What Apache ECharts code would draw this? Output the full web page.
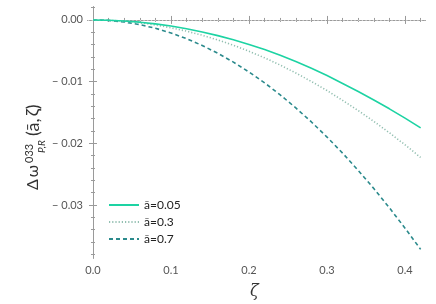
<!DOCTYPE html>
<html><head><meta charset="utf-8">
<script src="https://cdn.jsdelivr.net/npm/echarts@6/dist/echarts.min.js"></script>
<style>html,body{margin:0;padding:0;background:#fff}#c{width:436px;height:304px}</style>
</head><body><div id="c"></div>
<script>
var zeta = [0,0.02,0.04,0.06,0.08,0.10,0.12,0.14,0.16,0.18,0.20,0.22,0.24,0.26,0.28,0.30,0.32,0.34,0.36,0.38,0.40,0.42];
var a005 = [0,-0.00004,-0.00016,-0.00036,-0.00063,-0.00099,-0.00143,-0.00194,-0.00254,-0.00321,-0.00397,-0.00481,-0.00574,-0.00675,-0.00784,-0.00902,-0.01030,-0.01160,-0.01297,-0.01441,-0.01592,-0.01750];
var a03  = [0,-0.00005,-0.00020,-0.00046,-0.00081,-0.00127,-0.00182,-0.00248,-0.00324,-0.00410,-0.00507,-0.00614,-0.00732,-0.00860,-0.00998,-0.01145,-0.01305,-0.01470,-0.01645,-0.01830,-0.02025,-0.02230];
var a07  = [0,-0.00008,-0.00034,-0.00076,-0.00135,-0.00211,-0.00304,-0.00414,-0.00540,-0.00684,-0.00844,-0.01020,-0.01215,-0.01426,-0.01654,-0.01899,-0.02160,-0.02440,-0.02734,-0.03047,-0.03376,-0.03720];
var names = ['ā=0.05','ā=0.3','ā=0.7'];
var xMajor = [0,0.1,0.2,0.3,0.4];
var xMinor = [0,0.02,0.04,0.06,0.08,0.1,0.12,0.14,0.16,0.18,0.2,0.22,0.24,0.26,0.28,0.3,0.32,0.34,0.36,0.38,0.4,0.42];
var yMajor = [0,-0.01,-0.02,-0.03];
var yMinor = [0.002,0,-0.002,-0.004,-0.006,-0.008,-0.01,-0.012,-0.014,-0.016,-0.018,-0.02,-0.022,-0.024,-0.026,-0.028,-0.03,-0.032,-0.034,-0.036,-0.038];

var FONT = 'Lato';
var XMIN = -0.0064, XMAX = 0.4256, YMIN = -0.0386, YMAX = 0.0021;
var frame = {show:true, lineStyle:{color:'#9a9a9a', width:1}};
function xa(pos, vals, len, labels){
  return {type:'value', position:pos, min:XMIN, max:XMAX, axisLine:frame,
    splitLine:{show:false},
    axisTick:{show:true, inside:true, length:len, customValues:vals, lineStyle:{color:'#9a9a9a'}},
    axisLabel:labels ? {show:true, customValues:xMajor, color:'#555', fontFamily:FONT, fontSize:11, margin:7,
      formatter:function(v){return v.toFixed(1);}} : {show:false}};
}
function ya(pos, vals, len, labels){
  return {type:'value', position:pos, min:YMIN, max:YMAX, axisLine:frame,
    splitLine:{show:false},
    axisTick:{show:true, inside:true, length:len, customValues:vals, lineStyle:{color:'#9a9a9a'}},
    axisLabel:labels ? {show:true, customValues:yMajor, color:'#555', fontFamily:FONT, fontSize:11, margin:5,
      formatter:function(v){ return v===0 ? '0.00' : '\u2212 ' + Math.abs(v).toFixed(2);}} : {show:false}};
}
function pairs(ys){ return zeta.map(function(z,i){return [z, ys[i]];}); }

var chart = echarts.init(document.getElementById('c'));
chart.setOption({
  animation:false,
  grid:{left:88, right:11, top:7, bottom:46},
  xAxis:[xa('bottom', xMajor, 4, true), xa('bottom', xMinor, 2, false), xa('top', xMajor, 4, false), xa('top', xMinor, 2, false)],
  yAxis:[ya('left', yMajor, 4, true), ya('left', yMinor, 2, false), ya('right', yMajor, 4, false), ya('right', yMinor, 2, false)],
  legend:{orient:'vertical', left:103, top:194, itemWidth:30, itemHeight:14, itemGap:5,
    itemStyle:{opacity:0},
    textStyle:{fontFamily:FONT, fontSize:12, color:'#222'}, data:names},
  series:[
    {name:names[0], type:'line', data:pairs(a005), showSymbol:false, symbol:'none', z:5,
      lineStyle:{color:'#1dd3a3', width:1.6}, itemStyle:{color:'#1dd3a3'},
      markLine:{silent:true, symbol:'none', label:{show:false}, lineStyle:{color:'#d2d2d2', type:[1.2,2.5], width:1}, data:[{yAxis:0}]}},
    {name:names[1], type:'line', data:pairs(a03), showSymbol:false, symbol:'none', z:4,
      lineStyle:{color:'#93bfb1', width:1.6, type:[1.2,2]}, itemStyle:{color:'#93bfb1'}},
    {name:names[2], type:'line', data:pairs(a07), showSymbol:false, symbol:'none', z:3,
      lineStyle:{color:'#2b8a8c', width:1.6, type:[4,3]}, itemStyle:{color:'#2b8a8c'}}
  ],
  graphic:[
    {type:'text', left:250, top:284, style:{text:'ζ', fontFamily:'DejaVu Serif', fontStyle:'italic', fontSize:16, fill:'#333'}},
    {type:'group', x:38, y:190, rotation:Math.PI/2, children:[
      {type:'text', x:0, y:-5, style:{text:'Δ\u2009ω', fontFamily:FONT, fontSize:16, fill:'#333', verticalAlign:'middle', align:'left'}},
      {type:'text', x:27, y:-9, style:{text:'033', fontFamily:FONT, fontSize:11, fill:'#333', verticalAlign:'middle', align:'left'}},
      {type:'text', x:37, y:4, style:{text:'P,R', fontFamily:FONT, fontStyle:'italic', fontSize:10, fill:'#333', verticalAlign:'middle', align:'left'}},
      {type:'text', x:54, y:-5, style:{text:'(ā,\u2009ζ)', fontFamily:FONT, fontSize:18, fill:'#333', verticalAlign:'middle', align:'left'}}
    ]}
  ]
});
</script></body></html>
